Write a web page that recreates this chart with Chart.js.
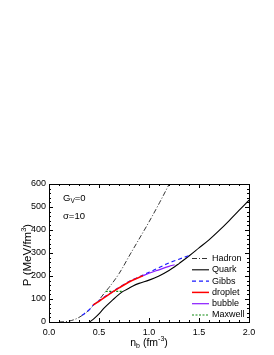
<!DOCTYPE html>
<html>
<head>
<meta charset="utf-8">
<script src="https://cdn.jsdelivr.net/npm/chart.js@4.4.0/dist/chart.umd.min.js"></script>
<style>html,body{margin:0;padding:0;background:#fff}</style>
</head>
<body>
<canvas id="chart" width="274" height="355"></canvas>
<script>
// values: baryon density n_b (fm^-3) vs pressure P (MeV/fm^3)
const hadronN = [0.1, 0.15, 0.2, 0.25, 0.3, 0.35, 0.4, 0.45, 0.5, 0.567, 0.6, 0.7, 0.814, 0.9, 1.0, 1.107, 1.2, 1.22]
const hadronP = [0, 1, 4, 10, 20, 34, 52, 75, 96, 133, 150, 210, 296, 360, 435, 520, 598, 615]

const quarkN = [0.407, 0.45, 0.507, 0.55, 0.64, 0.7, 0.74, 0.8, 0.84, 0.9, 1.0, 1.1, 1.2, 1.257, 1.3, 1.4, 1.5, 1.6, 1.7, 1.8, 1.9, 2.0]
const quarkP = [0, 15, 39, 60, 97, 120, 133, 147, 157, 168, 182, 200, 224, 240, 254, 287, 322, 357, 397, 440, 485, 530]

const gibbsN = [0.33, 0.4, 0.44, 0.5, 0.6, 0.7, 0.8, 0.94, 1.0, 1.107, 1.2, 1.3, 1.4]
const gibbsP = [29, 52, 72, 92, 122, 150, 176, 204, 216, 238, 257, 273, 289]

const dropletN = [0.44, 0.5, 0.6, 0.7, 0.8, 0.94]
const dropletP = [73, 90, 120, 148, 174, 201]

const bubbleN = [0.94, 1.0, 1.107, 1.2, 1.257]
const bubbleP = [201, 212, 228, 242, 249]

const maxwellN = [0.567, 0.734]
const maxwellP = [133, 133]

const xTicks = [0, 0.5, 1.0, 1.5, 2.0]
const yTicks = [0, 100, 200, 300, 400, 500, 600]

const FONT = '"Liberation Sans", Arial, sans-serif'

function pts(xs, ys) {
    return xs.map((x, i) => ({ x: x, y: ys[i] }))
}

function drawRich(ctx, parts, x, y, align) {
    let w = 0
    parts.forEach(p => {
        ctx.font = p.size + 'px ' + FONT
        p.w = ctx.measureText(p.t).width
        w += p.w
    })
    let cx = align === 'center' ? x - w / 2 : x
    parts.forEach(p => {
        ctx.font = p.size + 'px ' + FONT
        ctx.fillText(p.t, cx, y + (p.dy || 0))
        cx += p.w
    })
}

const framePlugin = {
    id: 'frame',
    afterDraw(chart) {
        const ctx = chart.ctx
        const a = chart.chartArea
        const xs = chart.scales.x
        const ys = chart.scales.y
        ctx.save()
        ctx.strokeStyle = '#000'
        ctx.lineWidth = 1
        ctx.setLineDash([])
        ctx.strokeRect(a.left + 0.5, a.top + 0.5, a.right - a.left, a.bottom - a.top)

        // inner ticks, major and minor
        ctx.beginPath()
        for (let i = 0; i <= 20; i++) {
            const px = Math.round(xs.getPixelForValue(i / 10)) + 0.5
            const len = i % 5 === 0 ? 4 : 2
            ctx.moveTo(px, a.bottom); ctx.lineTo(px, a.bottom - len)
            ctx.moveTo(px, a.top); ctx.lineTo(px, a.top + len)
        }
        for (let i = 0; i <= 30; i++) {
            const py = Math.round(ys.getPixelForValue(i * 20)) + 0.5
            const len = i % 5 === 0 ? 4 : 2
            ctx.moveTo(a.left, py); ctx.lineTo(a.left + len, py)
            ctx.moveTo(a.right, py); ctx.lineTo(a.right - len, py)
        }
        ctx.stroke()

        ctx.fillStyle = '#000'
        ctx.textBaseline = 'middle'
        // axis titles
        drawRich(ctx, [
            { t: 'n', size: 10.5 },
            { t: 'b', size: 7, dy: 3 },
            { t: ' (fm', size: 10.5 },
            { t: '-3', size: 7, dy: -4 },
            { t: ')', size: 10.5 }
        ], (a.left + a.right) / 2, 343, 'center')

        ctx.save()
        ctx.translate(28, (a.top + a.bottom) / 2 + 2)
        ctx.rotate(-Math.PI / 2)
        drawRich(ctx, [
            { t: 'P (MeV/fm', size: 11.5 },
            { t: '3', size: 7.5, dy: -4 },
            { t: ')', size: 11.5 }
        ], 0, 0, 'center')
        ctx.restore()

        // annotations
        drawRich(ctx, [
            { t: 'G', size: 9.5 },
            { t: 'V', size: 6.5, dy: 3 },
            { t: '=0', size: 9.5 }
        ], a.left + 14, a.top + 14, 'left')
        drawRich(ctx, [{ t: '\u03c3=10', size: 9.5 }], a.left + 14, a.top + 32, 'left')

        // legend
        let ly = 258.5
        chart.data.datasets.forEach(ds => {
            ctx.beginPath()
            ctx.strokeStyle = ds.borderColor
            ctx.lineWidth = ds.borderWidth
            ctx.setLineDash(ds.borderDash || [])
            ctx.moveTo(192, ly); ctx.lineTo(209, ly)
            ctx.stroke()
            ctx.setLineDash([])
            ctx.font = '9px ' + FONT
            ctx.fillText(ds.label, 212, ly)
            ly += 11.3
        })
        ctx.restore()
    }
}

new Chart(document.getElementById('chart'), {
    type: 'line',
    data: {
        datasets: [
            { label: 'Hadron', data: pts(hadronN, hadronP), borderColor: '#000', borderWidth: 0.8, borderDash: [5, 2, 1, 2], order: 5 },
            { label: 'Quark', data: pts(quarkN, quarkP), borderColor: '#000', borderWidth: 1.1, order: 4 },
            { label: 'Gibbs', data: pts(gibbsN, gibbsP), borderColor: '#1a1aff', borderWidth: 1.2, borderDash: [4, 3], order: 2 },
            { label: 'droplet', data: pts(dropletN, dropletP), borderColor: '#ff0000', borderWidth: 1.5, order: 0 },
            { label: 'bubble', data: pts(bubbleN, bubbleP), borderColor: '#8a1aff', borderWidth: 1.2, order: 1 },
            { label: 'Maxwell', data: pts(maxwellN, maxwellP), borderColor: '#118a11', borderWidth: 1.2, borderDash: [2, 1.5], order: 3 }
        ]
    },
    options: {
        responsive: false,
        animation: false,
        devicePixelRatio: 1,
        layout: { padding: { left: 0, top: 184, right: 25, bottom: 0 } },
        elements: { point: { radius: 0 }, line: { cubicInterpolationMode: 'monotone' } },
        plugins: { legend: { display: false }, tooltip: { enabled: false } },
        scales: {
            x: {
                type: 'linear', min: 0, max: 2,
                afterFit: s => { s.height = 33 },
                afterBuildTicks: s => { s.ticks = xTicks.map(v => ({ value: v })) },
                grid: { display: false, drawTicks: false },
                border: { display: false },
                ticks: { padding: 5, color: '#000', font: { family: FONT, size: 9 }, callback: v => v.toFixed(1), maxRotation: 0 }
            },
            y: {
                min: 0, max: 600,
                afterFit: s => { s.width = 49 },
                afterBuildTicks: s => { s.ticks = yTicks.map(v => ({ value: v })) },
                grid: { display: false, drawTicks: false },
                border: { display: false },
                ticks: { padding: 3, color: '#000', font: { family: FONT, size: 9 } }
            }
        }
    },
    plugins: [framePlugin]
})
</script>
</body>
</html>
